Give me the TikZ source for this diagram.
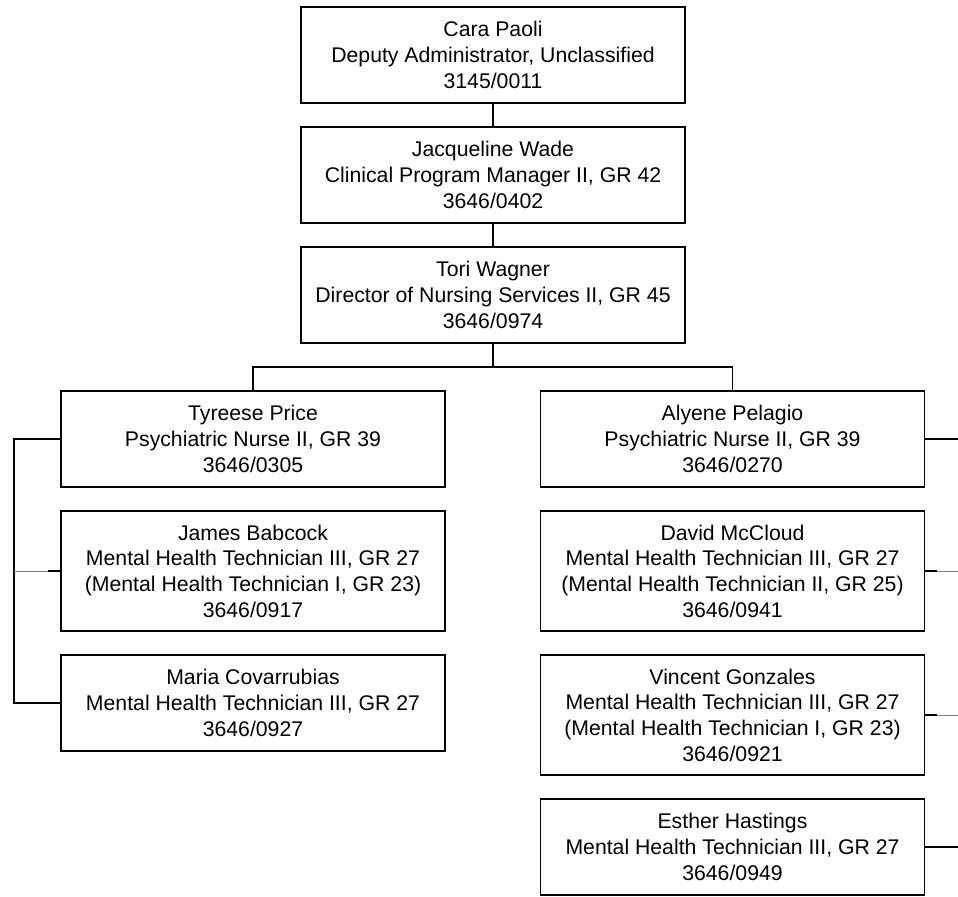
\documentclass[tikz,border=0pt]{standalone}
\usepackage{fontspec}
\setmainfont{Liberation Sans}
\usetikzlibrary{calc}
\def\staffnode{\node[draw,minimum width=9.6cm,minimum height=2.4cm,align=center,inner sep=0pt]}
\def\longnode{\node[draw,minimum width=9.6cm,minimum height=3cm,align=center,inner sep=0pt]}
\tikzset{faint/.style={line width=0.5pt,gray}}

\begin{document}
\begin{tikzpicture}[x=0.025cm,y=-0.025cm,line width=0.9pt,font=\fontsize{15.1}{18.3}\selectfont]
\useasboundingbox (0,0) rectangle (958,896);
\staffnode (cara) at (493,55) {Cara Paoli\\Deputy Administrator, Unclassified\\3145/0011};
\staffnode (jacq) at (493,175) {Jacqueline Wade\\Clinical Program Manager II, GR 42\\3646/0402};
\staffnode (tori) at (493,295) {Tori Wagner\\Director of Nursing Services II, GR 45\\3646/0974};
\staffnode (tyreese) at (253,439) {Tyreese Price\\Psychiatric Nurse II, GR 39\\3646/0305};
\longnode (james) at (253,571) {James Babcock\\Mental Health Technician III, GR 27\\(Mental Health Technician I, GR 23)\\3646/0917};
\staffnode (maria) at (253,703) {Maria Covarrubias\\Mental Health Technician III, GR 27\\3646/0927};
\staffnode (alyene) at (732.5,439) {Alyene Pelagio\\Psychiatric Nurse II, GR 39\\3646/0270};
\longnode (david) at (732.5,571) {David McCloud\\Mental Health Technician III, GR 27\\(Mental Health Technician II, GR 25)\\3646/0941};
\longnode (vincent) at (732.5,715) {Vincent Gonzales\\Mental Health Technician III, GR 27\\(Mental Health Technician I, GR 23)\\3646/0921};
\staffnode (esther) at (732.5,847) {Esther Hastings\\Mental Health Technician III, GR 27\\3646/0949};
\coordinate (bus) at (493,367);
\coordinate (lbus1) at (14,439);
\coordinate (lbus2) at (14,571);
\coordinate (lbus3) at (14,703);
\coordinate (jstub) at (48,571);
\coordinate (redge1) at (958,439);
\coordinate (dstub) at (937,571);
\coordinate (redge2) at (958,571);
\coordinate (vstub) at (937,715);
\coordinate (redge3) at (958,715);
\coordinate (redge4) at (958,847);
\draw (cara) -- (jacq);
\draw (jacq) -- (tori);
\draw (tori) -- (bus);
\draw (tyreese.north) |- (bus) -| (alyene.north);
\draw (tyreese.west) -- (lbus1) -- (lbus3) -- (maria.west);
\draw[faint] (lbus2) -- (jstub);
\draw (jstub) -- (james.west);
\draw (alyene.east) -- (redge1);
\draw (david.east) -- (dstub);
\draw[faint] (dstub) -- (redge2);
\draw (vincent.east) -- (vstub);
\draw[faint] (vstub) -- (redge3);
\draw (esther.east) -- (redge4);
\end{tikzpicture}
\end{document}
